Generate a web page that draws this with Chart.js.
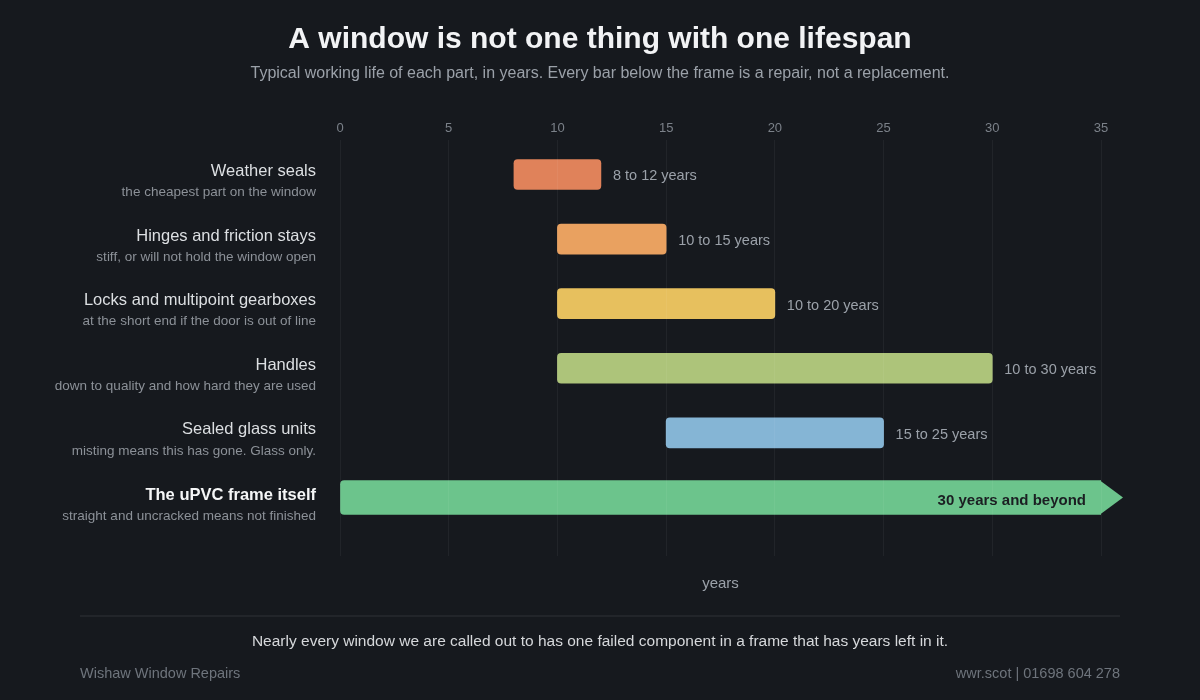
<!DOCTYPE html>
<html>
<head>
<meta charset="utf-8">
<script src="https://cdn.jsdelivr.net/npm/chart.js@4/dist/chart.umd.min.js"></script>
<style>
  html, body { margin: 0; background: #16191e; }
  canvas { display: block; }
</style>
</head>
<body>
<canvas id="chart" width="1200" height="700"></canvas>
<script>
// data
const partNames = ['Weather seals', 'Hinges and friction stays', 'Locks and multipoint gearboxes', 'Handles', 'Sealed glass units'];
const partNotes = [
  'the cheapest part on the window',
  'stiff, or will not hold the window open',
  'at the short end if the door is out of line',
  'down to quality and how hard they are used',
  'misting means this has gone. Glass only.'
];
const partStart = [8, 10, 10, 10, 15];
const partEnd = [12, 15, 20, 30, 25];
const partColors = ['#e0825a', '#e9a160', '#e7c05e', '#adc47a', '#85b5d5'];

const frameName = 'The uPVC frame itself';
const frameNote = 'straight and uncracked means not finished';
const frameRange = [0, 35];
const frameText = '30 years and beyond';
const frameColor = '#6cc48c';

const xTickStep = 5;
const xMin = 0;
const xMax = 35;

const FONT = '"Liberation Sans", Arial, sans-serif';

let partData = partNames.map((n, i) => ({ x: [partStart[i], partEnd[i]], y: i }));
let frameData = [{ x: frameRange, y: partNames.length }];

const textPlugin = {
  id: 'textPlugin',
  afterDatasetsDraw(chart) {
    // arrow head on the frame bar
    const ctx = chart.ctx;
    const bar = chart.getDatasetMeta(1).data[0];
    const h = bar.height;
    ctx.save();
    ctx.fillStyle = frameColor;
    ctx.beginPath();
    ctx.moveTo(bar.x - 1, bar.y - h / 2);
    ctx.lineTo(bar.x + 22, bar.y);
    ctx.lineTo(bar.x - 1, bar.y + h / 2);
    ctx.closePath();
    ctx.fill();
    ctx.restore();
  },
  afterDraw(chart) {
    const ctx = chart.ctx;
    const xs = chart.scales.x, ys = chart.scales.y;
    const area = chart.chartArea;
    ctx.save();
    ctx.textBaseline = 'middle';

    // title + subtitle
    ctx.textAlign = 'center';
    ctx.fillStyle = '#f2f3f5';
    ctx.font = 'bold 30px ' + FONT;
    ctx.fillText('A window is not one thing with one lifespan', 600, 40);
    ctx.fillStyle = '#9ba1a9';
    ctx.font = '16px ' + FONT;
    ctx.fillText('Typical working life of each part, in years. Every bar below the frame is a repair, not a replacement.', 600, 74);

    // row labels
    ctx.textAlign = 'right';
    partNames.forEach((name, i) => {
      const py = ys.getPixelForValue(i);
      ctx.fillStyle = '#dcdfe2';
      ctx.font = '16.5px ' + FONT;
      ctx.fillText(name, 316, py - 3);
      ctx.fillStyle = '#8c9198';
      ctx.font = '13.5px ' + FONT;
      ctx.fillText(partNotes[i], 316, py + 18);
    });
    const fy = ys.getPixelForValue(partNames.length);
    ctx.fillStyle = '#f5f6f7';
    ctx.font = 'bold 16.5px ' + FONT;
    ctx.fillText(frameName, 316, fy - 2);
    ctx.fillStyle = '#8c9198';
    ctx.font = '13.5px ' + FONT;
    ctx.fillText(frameNote, 316, fy + 19);

    // value labels
    ctx.textAlign = 'left';
    ctx.fillStyle = '#9ba1a9';
    ctx.font = '14.5px ' + FONT;
    partNames.forEach((name, i) => {
      ctx.fillText(partStart[i] + ' to ' + partEnd[i] + ' years',
        xs.getPixelForValue(partEnd[i]) + 12, ys.getPixelForValue(i) + 2);
    });
    ctx.textAlign = 'right';
    ctx.fillStyle = '#1b1e22';
    ctx.font = 'bold 15px ' + FONT;
    ctx.fillText(frameText, xs.getPixelForValue(frameRange[1]) - 15, fy + 3);

    // axis title
    ctx.textAlign = 'center';
    ctx.fillStyle = '#9ba1a9';
    ctx.font = '15px ' + FONT;
    ctx.fillText('years', (area.left + area.right) / 2, 584);

    // footer
    ctx.strokeStyle = '#22252a';
    ctx.lineWidth = 2;
    ctx.beginPath();
    ctx.moveTo(80, 616);
    ctx.lineTo(1120, 616);
    ctx.stroke();
    ctx.fillStyle = '#d6d8db';
    ctx.font = '15.5px ' + FONT;
    ctx.fillText('Nearly every window we are called out to has one failed component in a frame that has years left in it.', 600, 642);
    ctx.fillStyle = '#6e747c';
    ctx.font = '14.5px ' + FONT;
    ctx.textAlign = 'left';
    ctx.fillText('Wishaw Window Repairs', 80, 674);
    ctx.textAlign = 'right';
    ctx.fillText('wwr.scot | 01698 604 278', 1120, 674);
    ctx.restore();
  }
};

new Chart(document.getElementById('chart'), {
  type: 'bar',
  data: {
    datasets: [
      {
        label: 'parts',
        data: partData,
        backgroundColor: partColors,
        barThickness: 30,
        borderRadius: 4,
        borderSkipped: false,
        grouped: false
      },
      {
        label: 'frame',
        data: frameData,
        backgroundColor: frameColor,
        barThickness: 34,
        borderRadius: { topLeft: 4, bottomLeft: 4, topRight: 0, bottomRight: 0 },
        borderSkipped: false,
        grouped: false
      }
    ]
  },
  options: {
    indexAxis: 'y',
    responsive: false,
    animation: false,
    layout: { padding: { left: 340, right: 99, top: 116, bottom: 144 } },
    plugins: {
      legend: { display: false },
      tooltip: { enabled: false }
    },
    scales: {
      x: {
        position: 'top',
        min: xMin,
        max: xMax,
        afterFit(s) { s.height = 24; },
        border: { display: false },
        grid: { color: 'rgba(255,255,255,0.05)', drawTicks: false, z: 1 },
        ticks: {
          stepSize: xTickStep,
          padding: 4,
          color: '#7b8189',
          font: { family: FONT, size: 13 }
        }
      },
      y: {
        type: 'linear',
        display: false,
        reverse: true,
        offset: false,
        bounds: 'data',
        grid: { offset: false },
        min: -0.534,
        max: 5.906
      }
    }
  },
  plugins: [textPlugin]
});
</script>
</body>
</html>
